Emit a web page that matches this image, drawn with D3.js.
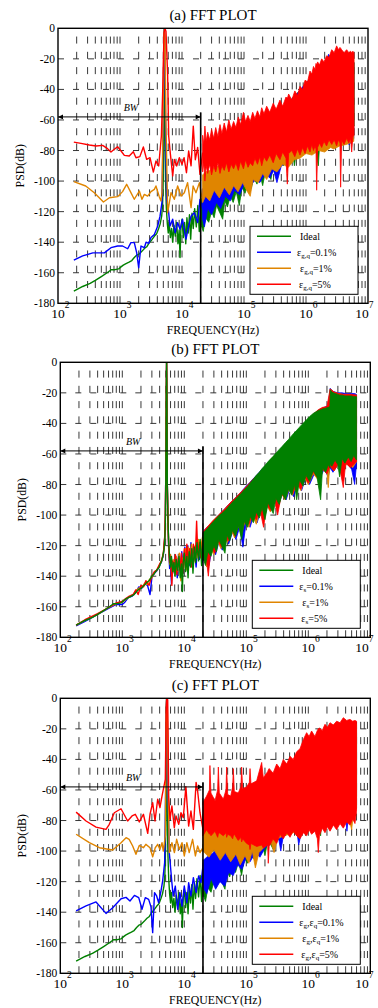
<!DOCTYPE html>
<html>
<head>
<meta charset="utf-8">
<script src="https://cdn.jsdelivr.net/npm/d3@7"></script>
<style>
body { margin: 0; background: #fff; }
svg { display: block; font-family: "Liberation Serif", "Times New Roman", serif; }
</style>
</head>
<body>
<svg id="chart"></svg>
<script>
// ---- axes / labels ----
const titles = ["(a) FFT PLOT", "(b) FFT PLOT", "(c) FFT PLOT"];
const yTicks = [0, -20, -40, -60, -80, -100, -120, -140, -160, -180];
const xTicks = [1e2, 1e3, 1e4, 1e5, 1e6, 1e7];
const xLabel = "FREQUENCY(Hz)";
const yLabel = "PSD(dB)";
const labelsA = ["Ideal", "ε_{g,q}=0.1%", "ε_{g,q}=1%", "ε_{g,q}=5%"];
const labelsB = ["Ideal", "ε_{s}=0.1%", "ε_{s}=1%", "ε_{s}=5%"];
const labelsC = ["Ideal", "ε_{g},ε_{q}=0.1%", "ε_{g},ε_{q}=1%", "ε_{g},ε_{q}=5%"];
const bwEdge = 2e4, bwLevel = -58, bwLineTop = -55, bwLabelFreq = 1500;

// ---- Ideal (same in all panels): [Hz, dB] and band [Hz, low dB, high dB] ----
const idealLine = [[180,-172],[250,-169],[330,-167],[400,-165],[500,-162.5],[620,-160],[720,-158],[830,-158],[950,-157.5],[1050,-156],[1130,-155],[1250,-154],[1400,-153],[1550,-152],[1700,-150],[1850,-148.5],[2000,-148],[2250,-146],[2500,-144],[2700,-143],[3000,-140],[3250,-138.5],[3600,-136],[3900,-134.5],[4200,-131],[4450,-128],[4700,-123],[4850,-116],[4950,-105],[5050,-70],[5120,-20],[5180,0],[5240,-20],[5320,-80],[5450,-103],[5600,-118],[5800,-128],[6000,-134],[6200,-127],[6500,-137],[6800,-131],[7100,-140],[7400,-129],[7800,-136],[8200,-127],[8600,-141],[9000,-132],[9300,-150],[9600,-131],[10000,-125],[10500,-137],[11000,-127],[11500,-141],[12000,-124],[12600,-134],[13200,-122],[13800,-138],[14500,-121],[15200,-131],[16000,-118],[17000,-130],[18000,-116],[19000,-133],[20000,-114]];
const idealBand = [[20000,-128,-112],[22000,-133,-110],[24000,-124,-108.5],[27000,-127,-106],[30000,-120,-104],[33000,-124,-102],[36000,-116,-100.5],[40000,-120,-99],[45300,-125,-97],[49000,-113,-95.5],[54000,-117,-93.5],[60000,-110,-91.5],[67000,-114,-89.5],[75000,-107,-87.5],[84000,-116,-85.5],[93000,-104,-83.5],[104000,-108,-81.5],[116000,-101,-79],[130000,-105,-76.5],[145000,-98,-74],[162000,-102,-72],[180000,-95,-69.5],[200000,-103,-67.5],[225000,-92,-65],[250000,-96,-63],[272000,-99,-61.5],[300000,-89,-59.5],[340000,-93,-57],[380000,-86,-55],[430000,-90,-52.5],[480000,-83,-50.5],[540000,-87,-48],[600000,-80,-46],[650000,-90,-44.5],[720000,-77,-42.5],[820000,-81,-40],[920000,-74,-38],[1050000,-78,-35.5],[1200000,-71,-33.5],[1380000,-75,-32],[1580000,-90,-31],[1700000,-69,-30.5],[1900000,-72,-30],[2100000,-67,-29.5],[2230000,-69,-29],[2260000,-66,-18],[2400000,-68,-19.5],[2700000,-64,-20.5],[3000000,-67,-21],[3200000,-75,-21.5],[3500000,-63,-21.5],[3900000,-66,-22],[4400000,-62,-22],[4900000,-65,-22],[5400000,-61,-22.5],[6000000,-64,-22.5]];

// ---- panel (a): eps_g,q ----
const aBlueLine = [[180,-151.7],[250,-149],[365,-147],[560,-147],[715,-143.6],[915,-142.5],[1100,-142.5],[1330,-144.3],[1500,-140.3],[1700,-140.3],[1860,-147],[2000,-156.7],[2180,-142.5],[2470,-143.6],[2630,-140],[2900,-140.8],[3160,-137],[3580,-135],[4060,-129.4],[4420,-123],[4750,-114],[4950,-70],[5100,-10],[5200,0],[5300,-10],[5450,-70],[5650,-112],[6100,-120.7],[6400,-129.4],[7080,-125],[7760,-133.8],[8510,-127.2],[9290,-131.6],[10200,-125],[11600,-138],[12800,-129.4],[14000,-123],[15800,-120.7],[17900,-127.2],[19500,-112],[21500,-118.5]];
const aBlueBand = [[21500,-125,-105],[23000,-130,-104],[26000,-118,-102],[30000,-122,-100],[36000,-114,-97],[42000,-118,-95],[50000,-110,-92],[60000,-113,-89],[70000,-106,-87],[85000,-109,-84],[100000,-102,-81],[120000,-105,-78],[150000,-99,-74],[180000,-101,-71],[220000,-95,-67],[260000,-98,-64],[300000,-93,-61],[340000,-101,-58],[400000,-90,-55],[500000,-88,-50],[600000,-85,-46],[750000,-83,-42],[900000,-80,-38],[1100000,-81,-34],[1400000,-79,-31],[1800000,-78,-29],[2200000,-76,-27],[2300000,-75,-17],[2500000,-77,-19],[3000000,-75,-20],[4000000,-74,-21],[5000000,-76,-21.5],[5900000,-72,-22]];
const aOrangeLine = [[180,-100.4],[280,-103.2],[385,-107.6],[540,-113.7],[675,-110.9],[915,-110.2],[1100,-106.9],[1280,-102.1],[1500,-107.6],[1700,-111.9],[2050,-106.5],[2260,-111.9],[2470,-108.7],[2790,-109.8],[3160,-106.9],[3580,-105.4],[3800,-103.2],[4300,-110.2],[4580,-113],[4750,-107.6],[4950,-60],[5100,-5],[5200,0],[5320,-5],[5500,-60],[5870,-120.7],[6650,-107.6],[7520,-111.9],[8510,-103.2],[9640,-109.8],[10900,-107.6],[12300,-101],[14000,-117.4],[15100,-103.2],[16800,-107.6],[19100,-101],[21500,-114]];
const aOrangeBand = [[21500,-114,-96],[24000,-110,-94],[28000,-113,-93],[33000,-106,-91],[40000,-111,-90],[48000,-104,-88],[58000,-109,-86],[68000,-103,-85],[80000,-107,-83],[95000,-101,-81],[110000,-106,-79],[126000,-110,-77],[140000,-99,-75],[170000,-101,-72],[200000,-95,-69],[232000,-99,-66],[280000,-92,-63],[340000,-94,-60],[420000,-89,-56],[520000,-91,-52],[650000,-86,-48],[800000,-85,-44],[1000000,-82,-39],[1250000,-83,-34],[1600000,-80,-29],[2000000,-81,-25],[2500000,-78,-21],[2800000,-79,-19],[3500000,-77,-18],[4500000,-76,-18],[5900000,-74,-19]];
const aRedLine = [[180,-74.5],[235,-75.3],[320,-76.4],[410,-77],[525,-76.6],[630,-78.8],[715,-81],[810,-79.2],[915,-77.5],[1040,-80.3],[1175,-83.2],[1410,-83.6],[1640,-80.8],[1810,-84.7],[2090,-84],[2380,-77.7],[2690,-85.8],[3050,-84.7],[3450,-94.1],[3800,-86.9],[4210,-90.1],[4650,-70.5],[4875,-42],[5130,-3],[5320,0],[5520,-2],[5870,-31],[6100,-70.5],[6460,-81.4],[7080,-96.7],[7520,-85.8],[8200,-90.1],[9060,-84.7],[10000,-89],[10800,-84.7],[11800,-94.5],[12800,-80.3],[14000,-90],[15200,-64],[16400,-86],[17900,-78],[19500,-95.6],[21500,-81.4]];
const aRedBand = [[21500,-94,-70],[22500,-88,-76],[23400,-100,-64],[24500,-90,-74],[26000,-95,-68],[28000,-89,-73],[30000,-96,-66],[32500,-90,-72],[35000,-94,-65],[38000,-88,-71],[41000,-95,-63],[44000,-90,-69],[48000,-93,-62],[52000,-88,-68],[57000,-94,-60],[62000,-89,-66],[68000,-92,-61],[74000,-88,-65],[81000,-93,-58],[88000,-87,-63],[98000,-92,-55],[106000,-86,-61],[116000,-91,-57],[126000,-88,-61],[138000,-90,-55],[150000,-85,-59],[165000,-89,-54],[180000,-84,-58],[193000,-90,-52],[210000,-84,-56],[232000,-87,-51],[260000,-83,-55],[296000,-88,-49],[330000,-82,-53],[380000,-86,-47],[420000,-81,-51],[475000,-85,-45],[500000,-102,-46],[525000,-82,-43],[590000,-80,-47],[660000,-84,-41],[730000,-79,-44],[800000,-83,-38],[880000,-78,-40],[965000,-82,-34],[1060000,-77,-35],[1160000,-81,-28],[1240000,-76,-30],[1320000,-80,-25],[1400000,-77,-27],[1450000,-79,-23],[1485000,-106,-24],[1540000,-78,-22],[1650000,-75,-24],[1790000,-78,-20],[1950000,-74,-22],[2150000,-77,-18],[2350000,-73,-19],[2600000,-76,-14],[2850000,-73,-16],[3120000,-77,-11.5],[3330000,-73,-14],[3530000,-75,-12.5],[3620000,-104,-13],[3760000,-73,-14],[4100000,-76,-16],[4530000,-72,-14],[4900000,-75,-16],[5250000,-72,-15],[5450000,-81,-16],[5700000,-71,-15],[5940000,-70,-16]];

// ---- panel (b): eps_s ----
const bBlueLine = [[180,-172.5],[250,-169.5],[400,-165],[600,-161],[800,-158.5],[1000,-158.5],[1100,-157],[1250,-154],[1450,-153],[1650,-150.5],[1850,-147],[2050,-148],[2300,-145],[2550,-146],[2800,-152],[3000,-141],[3300,-138],[3600,-136.5],[4000,-133],[4300,-130.5],[4600,-126],[4850,-114],[4950,-100],[5050,-65],[5120,-20],[5180,0],[5240,-20],[5320,-80],[5450,-104],[5600,-122],[5800,-135],[6000,-128],[6200,-145],[6500,-131],[6900,-138],[7300,-128],[7700,-141],[8100,-127],[8600,-135],[9100,-124],[9600,-138],[10200,-121],[10800,-132],[11400,-120],[12000,-133],[12800,-118],[13500,-128],[14500,-121],[15500,-134],[16500,-117],[17500,-129],[18500,-119],[19500,-131],[20000,-113]];
const bBlueBand = [[20000,-130,-111],[22000,-126,-109],[25000,-133,-107],[28000,-122,-104.5],[32000,-126,-102],[36000,-118,-100],[41000,-123,-97.5],[46000,-115,-95.5],[52000,-119,-93],[60000,-111,-90.5],[68000,-116,-88.5],[78000,-108,-86],[88000,-121,-83.5],[100000,-104,-81],[115000,-108,-78.5],[130000,-101,-76],[150000,-105,-73.5],[170000,-97,-71],[195000,-101,-68.5],[220000,-94,-66],[250000,-97,-63.5],[290000,-90,-61],[330000,-94,-58.5],[380000,-86,-55.5],[440000,-90,-53],[500000,-83,-50.5],[580000,-88,-48],[670000,-80,-45.5],[780000,-84,-43],[900000,-76,-40],[1050000,-80,-37],[1250000,-73,-33.5],[1500000,-77,-31],[1800000,-70,-29.5],[2100000,-75,-28.5],[2250000,-69,-17],[2500000,-72,-19],[3000000,-67,-20],[3500000,-71,-20],[4200000,-66,-20.5],[5000000,-70,-20.5],[5600000,-80,-20.5],[6000000,-66,-21]];
const bOrangeLine = [[180,-172],[250,-169],[400,-165],[600,-160.5],[800,-158],[1000,-157],[1150,-155],[1300,-153.5],[1500,-152],[1700,-149],[1900,-147.5],[2100,-147],[2300,-144.5],[2500,-145.5],[2750,-142],[3000,-141],[3300,-137.5],[3600,-136],[4000,-132.5],[4300,-130],[4600,-125],[4850,-114],[4950,-101],[5050,-66],[5120,-20],[5180,0],[5240,-20],[5320,-80],[5450,-103],[5600,-121],[5800,-132],[6000,-126],[6300,-140],[6600,-129],[7000,-139],[7400,-127],[7800,-137],[8300,-125],[8800,-143],[9300,-128],[9800,-135],[10400,-122],[11000,-136],[11600,-121],[12300,-131],[13000,-119],[14000,-132],[15000,-120],[16000,-128],[17000,-116],[18200,-127],[19200,-117],[20000,-113]];
const bOrangeBand = [[20000,-127,-111.5],[23000,-134,-109],[26000,-121,-106],[30000,-126,-103],[34000,-117,-101],[39000,-122,-98.5],[44000,-114,-96.5],[50000,-118,-94],[57000,-110,-92],[65000,-115,-89.5],[74000,-107,-87.5],[84000,-112,-85],[96000,-104,-82.5],[110000,-108,-80],[125000,-100,-77.5],[145000,-106,-75],[165000,-97,-72],[190000,-101,-69.5],[215000,-94,-67],[245000,-98,-64.5],[280000,-90,-62],[320000,-93,-59.5],[370000,-86,-57],[420000,-90,-54],[490000,-83,-51.5],[560000,-87,-49],[650000,-79,-46],[760000,-84,-43.5],[880000,-76,-41],[1000000,-80,-38],[1200000,-73,-34],[1450000,-77,-31.5],[1700000,-70,-30],[2000000,-72,-29.5],[2100000,-82,-29],[2200000,-69,-29],[2250000,-68,-17.5],[2600000,-71,-19.5],[3100000,-66,-20.5],[3700000,-70,-21],[4400000,-65,-21],[5200000,-69,-21.5],[6000000,-65,-21.5]];
const bRedLine = [[180,-172],[250,-168.5],[400,-164.5],[600,-160.5],[800,-157.5],[1000,-156.5],[1150,-154.5],[1300,-153],[1500,-152],[1650,-149],[1800,-152],[2000,-146],[2200,-147],[2400,-143],[2700,-146],[3000,-140],[3300,-137],[3600,-136],[4000,-132],[4300,-130],[4600,-125],[4850,-113],[4950,-100],[5050,-65],[5120,-20],[5180,0],[5240,-20],[5320,-80],[5450,-102],[5600,-120],[5800,-131],[6000,-127],[6300,-146],[6500,-130],[6800,-137],[7200,-126],[7600,-139],[8000,-128],[8500,-136],[9000,-125],[9500,-138],[10000,-122],[10500,-133],[11000,-119],[11600,-131],[12200,-122],[13000,-134],[14000,-119],[15000,-130],[15800,-104],[16500,-126],[17500,-118],[18500,-128],[19500,-122],[20000,-113]];
const bRedBand = [[20000,-128,-111],[22000,-124,-109],[24400,-140,-107],[27000,-121,-105],[31000,-125,-102.5],[35000,-117,-100.5],[40000,-121,-98],[45000,-113,-96],[51000,-117,-93.5],[58000,-109,-91],[66000,-114,-89],[75000,-106,-86.5],[85000,-110,-84.5],[97000,-102,-82],[110000,-106,-79.5],[126000,-99,-77],[145000,-103,-74.5],[165000,-96,-72],[190000,-108,-69.5],[215000,-93,-67],[245000,-97,-64],[280000,-89,-61.5],[320000,-100,-59],[370000,-86,-56.5],[420000,-89,-54],[490000,-82,-51.5],[560000,-86,-49],[650000,-79,-46],[760000,-83,-43],[880000,-75,-40.5],[1000000,-79,-38],[1200000,-72,-34],[1450000,-76,-31],[1700000,-70,-29.5],[2000000,-73,-29],[2250000,-68,-17.5],[2600000,-71,-19.5],[3100000,-66,-20.5],[3670000,-82,-21],[4000000,-66,-21],[4800000,-69,-21],[6000000,-65,-21.5]];

// ---- panel (c): eps_g, eps_q ----
const cBlueLine = [[180,-139.2],[260,-135.9],[377,-133.3],[546,-140.8],[700,-137.1],[955,-131.2],[1150,-130.3],[1330,-132.7],[1570,-129],[1840,-130.5],[2080,-138.1],[2350,-130.5],[2660,-131.6],[2900,-136.4],[3090,-153.4],[3310,-127.2],[3580,-129.4],[3860,-133.8],[4210,-126.1],[4470,-119.6],[4820,-107.6],[5000,-60],[5120,-5],[5200,0],[5300,-5],[5450,-60],[5700,-100],[6310,-120.7],[6610,-129.4],[7160,-122.9],[7820,-138.1],[8510,-127.2],[9180,-136],[10000,-122.9],[11000,-133.8],[11750,-120.7],[12800,-129.4],[14000,-117.4],[15500,-127.2],[17000,-116.3],[18600,-120.7],[20300,-107.6]];
const cBlueBand = [[20300,-124,-106],[23000,-128,-104],[27000,-118,-102],[32000,-125,-100],[37600,-120,-98],[45000,-123,-96],[52000,-114,-94],[61700,-116,-92],[72000,-109,-90],[85000,-112,-88],[100000,-104,-86],[115000,-107,-84],[140000,-101,-80],[166000,-104,-77],[200000,-98,-74],[260000,-93,-70],[330000,-91,-66],[360000,-100,-65],[400000,-89,-62],[500000,-88,-57],[650000,-86,-50],[700000,-96,-48],[800000,-85,-45],[1000000,-84,-40],[1300000,-83,-34],[1700000,-82,-30],[2200000,-81,-25],[2300000,-80,-18],[3000000,-79,-18],[4000000,-78,-18],[4200000,-87,-18],[4400000,-78,-18],[6000000,-72,-19]];
const cOrangeLine = [[180,-89],[294,-94.5],[427,-97.8],[700,-99.3],[955,-94.5],[1150,-91.2],[1290,-92.3],[1470,-96.7],[1660,-102.1],[1880,-96.3],[2190,-97.8],[2400,-95.6],[2800,-97.8],[3090,-103.7],[3400,-97.8],[3720,-95.6],[4050,-98.9],[4370,-94.5],[4580,-100],[4940,-90.1],[5100,-5],[5200,0],[5320,-5],[5500,-60],[5730,-101],[6310,-94.5],[6920,-101],[7530,-92.3],[8320,-98.9],[9180,-94.5],[10000,-103.2],[11000,-94.5],[12000,-101],[13600,-92.3],[15100,-103.2],[16400,-96.7],[17900,-101],[20000,-97.8]];
const cOrangeBand = [[20000,-100,-84],[25000,-104,-82],[30000,-99,-81],[38000,-106,-80],[46000,-101,-79],[56000,-107,-78],[68000,-102,-77],[80000,-109,-76],[95000,-103,-75],[110000,-108,-74],[125000,-100,-72],[140000,-111,-71],[160000,-101,-70],[200000,-97,-67],[250000,-94,-63],[280000,-101,-61],[320000,-92,-58],[400000,-90,-54],[500000,-89,-50],[650000,-87,-45],[800000,-86,-40],[1000000,-85,-35],[1300000,-84,-30],[1700000,-83,-25],[2200000,-82,-20],[2800000,-80,-16],[3500000,-80,-17],[4500000,-78,-16],[5000000,-86,-16],[5300000,-77,-16],[6000000,-72,-17]];
const cRedLine = [[180,-74.5],[260,-80.3],[377,-84.3],[546,-85.8],[617,-82.5],[743,-74.9],[953,-72.3],[1220,-80.3],[1435,-77],[1620,-75.9],[1880,-80.9],[2190,-75.9],[2570,-88.4],[2800,-75.9],[3090,-68.3],[3370,-80.3],[3720,-66.1],[4050,-71.6],[4370,-64],[4590,-59.6],[4940,-53],[5100,-10],[5200,0],[5400,-1],[5600,-64],[5870,-79.2],[6310,-70.5],[6900,-84.7],[7350,-77],[8130,-82.5],[8850,-74.9],[9640,-78.1],[10600,-57.8],[11750,-83.6],[12800,-73.8],[14000,-85.8],[15500,-55],[16400,-60.7],[17900,-74.9],[20000,-85.8]];
const cRedBand = [[20000,-90,-68],[22900,-86,-64],[25400,-89,-60],[25900,-88,-44],[26900,-90,-62],[31300,-87,-67],[34500,-91,-60],[35400,-89,-45],[36700,-88,-62],[42600,-90,-66],[47000,-88,-60],[48200,-91,-45],[50100,-89,-63],[56000,-90,-64],[60300,-92,-58],[61700,-90,-46],[64100,-89,-61],[74100,-93,-62],[82000,-91,-58],[84100,-94,-45],[87300,-92,-59],[101400,-95,-58],[112000,-96,-55],[114800,-99,-46],[119000,-95,-56],[147000,-97,-54],[177000,-96,-42],[188000,-98,-52],[221000,-96,-48],[226000,-108,-47],[234000,-97,-46],[270000,-92,-49],[309000,-95,-43],[350000,-89,-46],[395000,-92,-40],[450000,-88,-43],[507000,-91,-38],[570000,-87,-40],[649000,-90,-35],[735000,-92,-33],[832000,-88,-27],[940000,-90,-22.5],[1030000,-86,-25],[1130000,-89,-21.4],[1280000,-87,-25],[1400000,-92,-21],[1450000,-101,-20],[1510000,-90,-19.5],[1680000,-85,-21],[1860000,-88,-17],[2040000,-84,-19],[2240000,-87,-16],[2540000,-83,-17.5],[2860000,-86,-15],[3250000,-82,-16],[3670000,-85,-12.7],[4150000,-81,-14.5],[4700000,-83,-13.8],[5200000,-79,-15],[5660000,-82,-14.5],[6000000,-74,-15]];

// ---- layout ----
const width = 378, height = 1008;
const plotW = 310, plotH = 275;
const green = "#008000", blue = "#0000ff", orange = "#e08500", red = "#ff0000";

const svg = d3.select("#chart").attr("width", width).attr("height", height);
svg.append("rect").attr("width", width).attr("height", height).attr("fill", "#fff");

svg.append("defs").append("marker")
    .attr("id", "arrow")
    .attr("viewBox", "0 0 10 10")
    .attr("refX", 10).attr("refY", 5)
    .attr("markerUnits", "userSpaceOnUse")
    .attr("markerWidth", 8).attr("markerHeight", 5)
    .attr("orient", "auto-start-reverse")
    .append("path").attr("d", "M0,0L10,5L0,10Z").attr("fill", "#000");

const panels = [
    {left: 58, top: 28.3, title: titles[0], labels: labelsA,
     series: [[idealLine, idealBand, green], [aBlueLine, aBlueBand, blue], [aOrangeLine, aOrangeBand, orange], [aRedLine, aRedBand, red]]},
    {left: 60.3, top: 362.3, title: titles[1], labels: labelsB,
     series: [[bBlueLine, bBlueBand, blue], [bOrangeLine, bOrangeBand, orange], [bRedLine, bRedBand, red], [idealLine, idealBand, green]]},
    {left: 60.3, top: 698.3, title: titles[2], labels: labelsC,
     series: [[idealLine, idealBand, green], [cBlueLine, cBlueBand, blue], [cOrangeLine, cOrangeBand, orange], [cRedLine, cRedBand, red]]}
];
const legendColors = [green, blue, orange, red];
const legendTextX = [50, 47, 50, 49];

function addRichText(sel, str) {
    // "_{...}" marks a subscript
    let parts = str.split(/_\{([^}]*)\}/);
    parts.forEach((p, i) => {
        if (p === "") return;
        let t = sel.append("tspan").text(p);
        if (i % 2 == 1) t.attr("font-size", 7).attr("dy", 2.5);
        else if (i > 0) t.attr("dy", -2.5);
    });
}

panels.forEach((p, pi) => {
    const g = svg.append("g").attr("transform", `translate(${p.left},${p.top})`);
    const x = d3.scaleLog().domain([1e2, 1e7]).range([0, plotW]);
    const y = d3.scaleLinear().domain([-180, 0]).range([plotH, 0]);

    // grid
    const period = y(-180) - y(-170);
    g.append("g").selectAll("line")
        .data(x.ticks().filter(f => f > 1e2 && f < 1e7))
        .enter().append("line")
        .attr("x1", d => x(d)).attr("x2", d => x(d))
        .attr("y1", plotH).attr("y2", 0)
        .attr("stroke", "#222").attr("stroke-width", 0.9)
        .attr("stroke-dasharray", `${period * 0.46} ${period * 0.54}`);
    g.append("g").selectAll("line")
        .data(yTicks.filter(v => v > -180 && v < 0))
        .enter().append("line")
        .attr("x1", 0).attr("x2", plotW)
        .attr("y1", d => y(d)).attr("y2", d => y(d))
        .attr("stroke", "#222").attr("stroke-width", 0.9)
        .attr("stroke-dasharray", "6 9");

    // series
    const clipId = "clip" + pi;
    g.append("clipPath").attr("id", clipId)
        .append("rect").attr("width", plotW).attr("height", plotH);
    const plot = g.append("g").attr("clip-path", `url(#${clipId})`);
    const line = d3.line().x(d => x(d[0])).y(d => y(d[1]));
    const area = d3.area().x(d => x(d[0])).y0(d => y(d[1])).y1(d => y(d[2]));
    p.series.forEach(([ln, band, color]) => {
        plot.append("path").datum(band).attr("d", area)
            .attr("fill", color).attr("stroke", color).attr("stroke-width", 0.8);
        plot.append("path").datum(ln).attr("d", line)
            .attr("fill", "none").attr("stroke", color)
            .attr("stroke-width", 1.4).attr("stroke-linejoin", "round");
    });

    // bandwidth marker
    g.append("line")
        .attr("x1", x(1e2)).attr("x2", x(bwEdge))
        .attr("y1", y(bwLevel)).attr("y2", y(bwLevel))
        .attr("stroke", "#000").attr("stroke-width", 1)
        .attr("marker-start", "url(#arrow)").attr("marker-end", "url(#arrow)");
    g.append("line")
        .attr("x1", x(bwEdge)).attr("x2", x(bwEdge))
        .attr("y1", y(bwLineTop)).attr("y2", plotH)
        .attr("stroke", "#000").attr("stroke-width", 1.6);
    g.append("text")
        .attr("x", x(bwLabelFreq)).attr("y", y(bwLevel) - 6)
        .attr("text-anchor", "middle").attr("font-size", 10).attr("font-style", "italic")
        .text("BW");

    // box
    g.append("rect").attr("width", plotW).attr("height", plotH)
        .attr("fill", "none").attr("stroke", "#000").attr("stroke-width", 1.4);

    // tick labels
    g.append("g").selectAll("text")
        .data(yTicks).enter().append("text")
        .attr("x", -3).attr("y", d => y(d))
        .attr("text-anchor", "end").attr("dominant-baseline", "central")
        .attr("font-size", 11.5)
        .text(d => d);
    // the last label is pulled in a little so it stays inside the page
    const xt = g.append("g").selectAll("g")
        .data(xTicks).enter().append("g")
        .attr("transform", d => `translate(${x(d) - (d == 1e7 ? 6 + p.left - 58 : 0)},0)`);
    xt.append("text").attr("x", 0).attr("y", plotH + 15)
        .attr("text-anchor", "middle").attr("font-size", 13.5).text("10");
    xt.append("text").attr("x", 6.7).attr("y", plotH + 4.5)
        .attr("font-size", 9.5).text(d => Math.round(Math.log10(d)));

    // titles
    g.append("text").attr("x", plotW / 2).attr("y", -8)
        .attr("text-anchor", "middle").attr("font-size", 15).text(p.title);
    g.append("text").attr("x", plotW / 2).attr("y", plotH + 31)
        .attr("text-anchor", "middle").attr("font-size", 11.8).text(xLabel);
    g.append("text")
        .attr("transform", `translate(-34,${plotH / 2}) rotate(-90)`)
        .attr("text-anchor", "middle").attr("font-size", 11.8).text(yLabel);

    // legend
    const lg = g.append("g").attr("transform", `translate(192,${plotH - 77})`);
    lg.append("rect").attr("width", 108).attr("height", 68)
        .attr("fill", "#fff").attr("stroke", "#000").attr("stroke-width", 1);
    p.labels.forEach((lab, i) => {
        const ly = 10 + i * 16;
        lg.append("line").attr("x1", 7).attr("x2", 41).attr("y1", ly).attr("y2", ly)
            .attr("stroke", legendColors[i]).attr("stroke-width", 1.5);
        const t = lg.append("text").attr("x", legendTextX[i]).attr("y", ly + 3.5)
            .attr("font-size", 10);
        addRichText(t, lab);
    });
});
</script>
</body>
</html>
